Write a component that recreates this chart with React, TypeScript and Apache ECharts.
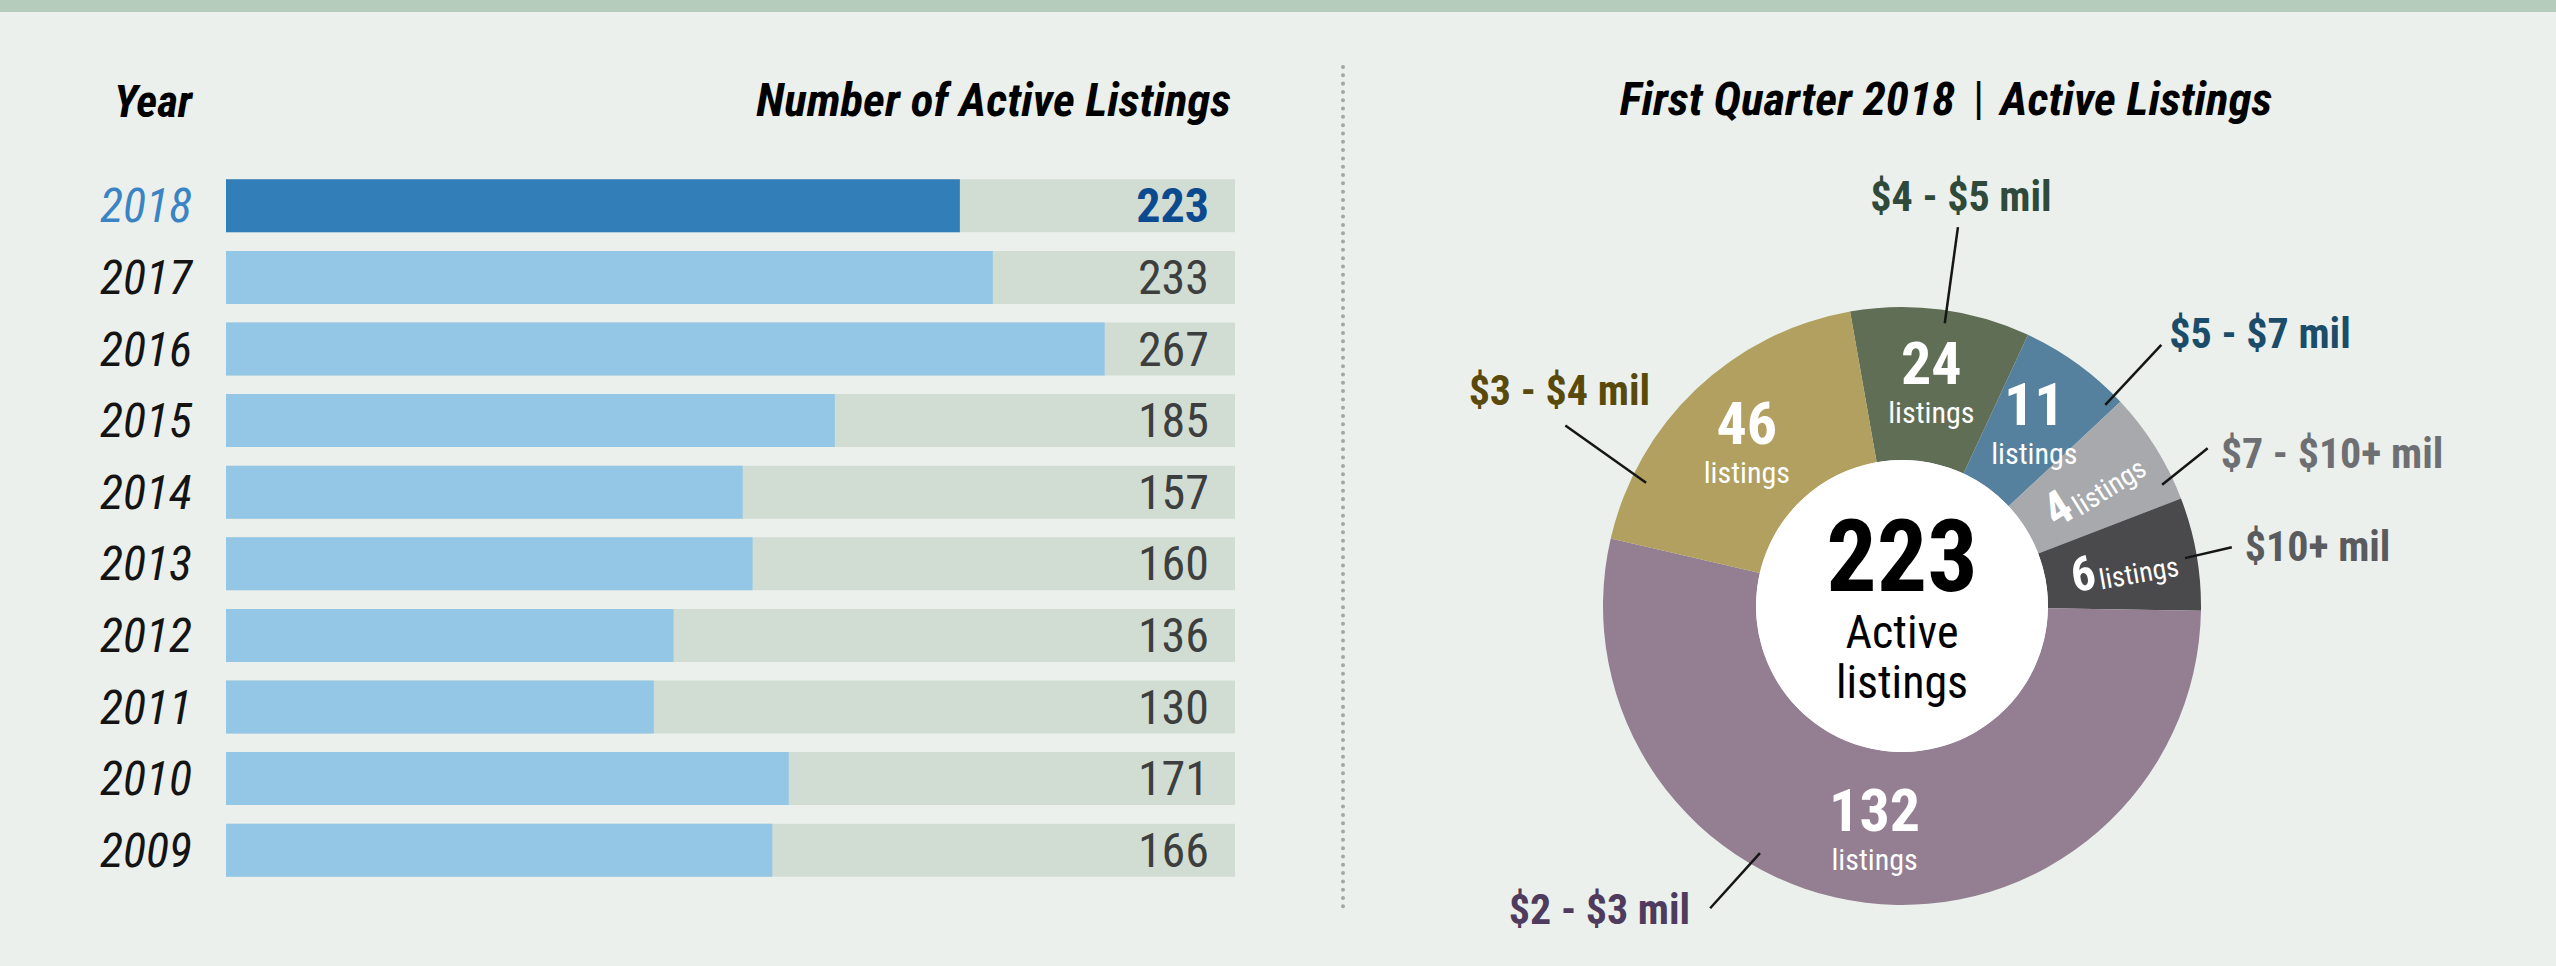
import React, { useEffect, useRef } from 'react';
import * as echarts from 'echarts';

// ---------- data ----------
const years = ['2018', '2017', '2016', '2015', '2014', '2013', '2012', '2011', '2010', '2009'];
const activeListings = [223, 233, 267, 185, 157, 160, 136, 130, 171, 166];
const barAxisMax = 306.6;

const priceRanges = ['$4 - $5 mil', '$5 - $7 mil', '$7 - $10+ mil', '$10+ mil', '$2 - $3 mil', '$3 - $4 mil'];
const rangeListings = [24, 11, 4, 6, 132, 46];

// ---------- style ----------
const W = 2556;
const H = 966;
const FONT = "'Roboto Condensed', 'Liberation Sans Narrow', 'DejaVu Sans Condensed', 'Liberation Sans', sans-serif";
const BG = '#ebf0ec';
const PIE_CENTER = [1902, 606];
const PIE_RADIUS = [146, 299];
const sliceColors = ['#5f6e55', '#56819e', '#a7a9ac', '#4a4a4d', '#937e92', '#b1a05f'];
const calloutColors = ['#2f4a3a', '#1b4c6a', '#6e6f72', '#5a5b5e', '#4f3b5d', '#594a0c'];
// callout leader lines: polar (screen-clockwise degrees from east, radius in px)
const callouts = [
  { a1: 278.6, r1: 286, a2: 278.4, r2: 383, align: 'center', vAlign: 'bottom', dx: 3, dy: -10 },
  { a1: 315.3, r1: 286, a2: 314.8, r2: 368, align: 'left', vAlign: 'middle', dx: 8, dy: -11 },
  { a1: 335.0, r1: 287, a2: 332.7, r2: 344, align: 'left', vAlign: 'middle', dx: 13, dy: 5 },
  { a1: 350.4, r1: 287, a2: 349.9, r2: 335, align: 'left', vAlign: 'middle', dx: 13, dy: -1 },
  { a1: 119.9, r1: 285, a2: 122.4, r2: 358, align: 'right', vAlign: 'middle', dx: -20, dy: 1 },
  { a1: 205.7, r1: 284, a2: 208.2, r2: 382, align: 'center', vAlign: 'bottom', dx: -6, dy: -14 },
];

function polar(a: number, r: number) {
  const t = (a * Math.PI) / 180;
  return [PIE_CENTER[0] + r * Math.cos(t), PIE_CENTER[1] + r * Math.sin(t)];
}

function buildOption() {
  const total = rangeListings.reduce((s, v) => s + v, 0);
  const pieCommon = {
    type: 'pie',
    center: PIE_CENTER,
    radius: PIE_RADIUS,
    startAngle: 100,
    clockwise: true,
    minAngle: 22,
    avoidLabelOverlap: false,
    silent: true,
  };

  return {
    animation: false,
    backgroundColor: BG,
    textStyle: { fontFamily: FONT },
    grid: {
      left: 226,
      right: W - 1235,
      top: 170,
      height: 716,
      containLabel: false,
      outerBoundsMode: 'none',
    },
    xAxis: { type: 'value', min: 0, max: barAxisMax, show: false },
    yAxis: [
      {
        type: 'category',
        data: years,
        inverse: true,
        axisLine: { show: false },
        axisTick: { show: false },
        splitLine: { show: false },
        axisLabel: {
          margin: 34,
          fontFamily: FONT,
          fontSize: 48,
          fontStyle: 'italic',
          color: '#141414',
          formatter: (v: string, i: number) => (i === 0 ? `{hl|${v}}` : v),
          rich: {
            hl: { fontFamily: FONT, fontSize: 48, fontStyle: 'italic', color: '#3b84c4' },
          },
        },
      },
      {
        type: 'category',
        data: years,
        inverse: true,
        position: 'right',
        z: 10,
        axisLine: { show: false },
        axisTick: { show: false },
        splitLine: { show: false },
        axisLabel: {
          inside: true,
          margin: 26,
          fontFamily: FONT,
          fontSize: 48,
          color: '#3d3f3e',
          formatter: (_v: string, i: number) =>
            i === 0 ? `{hl|${activeListings[i]}}` : `${activeListings[i]}`,
          rich: {
            hl: { fontFamily: FONT, fontSize: 48, fontWeight: 'bold', color: '#0b4a8f' },
          },
        },
      },
    ],
    series: [
      {
        type: 'bar',
        yAxisIndex: 0,
        barWidth: 53,
        showBackground: true,
        backgroundStyle: { color: '#d1dcd3' },
        data: activeListings.map((v, i) => ({
          value: v,
          itemStyle: { color: i === 0 ? '#317eb9' : '#94c7e6' },
        })),
      },
      {
        ...pieCommon,
        labelLayout: { hideOverlap: false },
        label: {
          show: true,
          position: 'inside',
          color: '#fff',
          fontFamily: FONT,
          formatter: (p: any) =>
            p.dataIndex === 2 || p.dataIndex === 3
              ? `{m|${p.value}} {s|listings}`
              : `{n|${p.value}}\n{l|listings}`,
          rich: {
            n: { fontFamily: FONT, fontSize: 60, fontWeight: 'bold', color: '#fff', lineHeight: 60, align: 'center' },
            l: { fontFamily: FONT, fontSize: 30, color: '#fff', lineHeight: 38, align: 'center' },
            m: { fontFamily: FONT, fontSize: 48, fontWeight: 'bold', color: '#fff', lineHeight: 46 },
            s: { fontFamily: FONT, fontSize: 28, color: '#fff', lineHeight: 46, verticalAlign: 'bottom' },
          },
        },
        labelLine: { show: false },
        itemStyle: { borderWidth: 0 },
        data: rangeListings.map((v, i) => ({
          name: priceRanges[i],
          value: v,
          itemStyle: { color: sliceColors[i] },
          label: i === 2 || i === 3 ? { rotate: 'radial' } : {},
        })),
      },
      {
        ...pieCommon,
        z: 3,
        itemStyle: { color: 'rgba(0,0,0,0)', borderWidth: 0 },
        label: {
          show: true,
          position: 'outside',
          fontFamily: FONT,
          fontSize: 42,
          fontWeight: 'bold',
          formatter: '{b}',
        },
        labelLine: {
          show: true,
          length: 40,
          length2: 0,
          lineStyle: { color: '#151515', width: 2.5 },
        },
        labelLayout: (params: any) => {
          const c = callouts[params.dataIndex];
          const p1 = polar(c.a1, c.r1);
          const p2 = polar(c.a2, c.r2);
          return {
            x: p2[0] + c.dx,
            y: p2[1] + c.dy,
            align: c.align,
            verticalAlign: c.vAlign,
            hideOverlap: false,
            labelLinePoints: [p1, p2, p2],
          };
        },
        data: rangeListings.map((v, i) => ({
          name: priceRanges[i],
          value: v,
          label: { color: calloutColors[i] },
        })),
      },
      {
        type: 'pie',
        center: PIE_CENTER,
        radius: [0, PIE_RADIUS[0]],
        silent: true,
        z: 4,
        label: {
          show: true,
          position: 'center',
          formatter: '{big|{c}}\n{a|Active}\n{s|listings}',
          rich: {
            big: { fontFamily: FONT, fontSize: 100, fontWeight: 'bold', color: '#000', lineHeight: 106, align: 'center' },
            a: { fontFamily: FONT, fontSize: 46, color: '#000', lineHeight: 46, align: 'center' },
            s: { fontFamily: FONT, fontSize: 46, color: '#000', lineHeight: 54, align: 'center' },
          },
        },
        labelLine: { show: false },
        data: [{ value: total, name: 'Active listings', itemStyle: { color: '#ffffff' } }],
      },
    ],
    graphic: [
      { type: 'rect', shape: { x: 0, y: 0, width: W, height: 12 }, style: { fill: '#b5cbbc' } },
      {
        type: 'line',
        shape: { x1: 1343, y1: 67, x2: 1343, y2: 913 },
        style: { stroke: '#a3a7a5', lineWidth: 4, lineDash: [0.01, 8.3], lineCap: 'round' },
      },
      {
        type: 'text',
        x: 114,
        y: 101,
        style: {
          text: 'Year',
          fontFamily: FONT,
          fontSize: 45,
          fontWeight: 'bold',
          fontStyle: 'italic',
          fill: '#000',
          align: 'left',
          verticalAlign: 'middle',
        },
      },
      {
        type: 'text',
        x: 1231,
        y: 99,
        style: {
          text: 'Number of Active Listings',
          fontFamily: FONT,
          fontSize: 47,
          fontWeight: 'bold',
          fontStyle: 'italic',
          fill: '#000',
          align: 'right',
          verticalAlign: 'middle',
        },
      },
      {
        type: 'text',
        x: 1946,
        y: 98,
        style: {
          text: '{b|First Quarter 2018}{p||}{b|Active Listings}',
          align: 'center',
          verticalAlign: 'middle',
          rich: {
            b: { fontFamily: FONT, fontSize: 47, fontWeight: 'bold', fontStyle: 'italic', fill: '#000' },
            p: { fontFamily: FONT, fontSize: 46, fontWeight: 'normal', fill: '#000', padding: [0, 16, 0, 18] },
          },
        },
      },
    ],
  };
}

export default function App() {
  const ref = useRef<HTMLDivElement>(null);
  useEffect(() => {
    if (!ref.current) return;
    const chart = echarts.init(ref.current, null, { renderer: 'svg' });
    chart.setOption(buildOption() as any);
    return () => chart.dispose();
  }, []);
  return (
    <div
      ref={ref}
      style={{ position: 'fixed', left: 0, top: 0, width: W, height: H, margin: 0 }}
    />
  );
}
